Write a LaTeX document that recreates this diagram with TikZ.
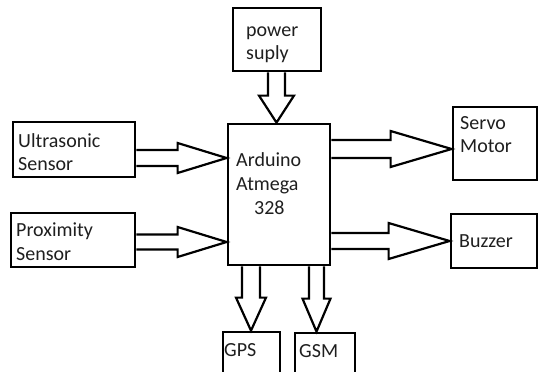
\documentclass[tikz,border=0pt]{standalone}
\usepackage{fontspec}
\setmainfont{Carlito}
\usetikzlibrary{calc}
\definecolor{txt}{gray}{0.12}
\tikzset{
  box/.style={draw=black, line width=2.8pt, rectangle, inner sep=0pt},
  lbl/.style={anchor=base west, inner sep=0pt, text=txt, font=\fontsize{20}{23}\selectfont},
  barrow/.style={draw=black, line width=2.2pt, line join=miter}
}
% #1 start, #2 tip, #3 shaft half width, #4 head half width, #5 head length
\newcommand{\blockarrow}[5]{%
  \coordinate (hb) at ($#2!#5!#1$);
  \draw[barrow] ($#1!#3!90:#2$) -- ($(hb)!#3!90:#2$) -- ($(hb)!#4!90:#2$) -- #2
    -- ($(hb)!#4!-90:#2$) -- ($(hb)!#3!-90:#2$) -- ($#1!#3!-90:#2$);
}
\begin{document}
\begin{tikzpicture}[x=1pt,y=-1pt]
\clip (0,0) rectangle (538,372);
\fill[white] (0,0) rectangle (538,372);
% boxes
\node[box, minimum width=88pt, minimum height=63pt] (pw) at (277,39.5) {};
\node[box, minimum width=102pt, minimum height=141pt] (ard) at (279,194.5) {};
\node[box, minimum width=122pt, minimum height=55pt] (us) at (74,149.5) {};
\node[box, minimum width=124pt, minimum height=54pt] (px) at (73,240) {};
\node[box, minimum width=84pt, minimum height=73pt] (sv) at (495,143.5) {};
\node[box, minimum width=86pt, minimum height=54pt] (bz) at (494,241) {};
\node[box, minimum width=57pt, minimum height=46pt] (gps) at (251.5,355) {};
\node[box, minimum width=60pt, minimum height=45pt] (gsm) at (325,355.5) {};
% labels
\node[lbl] (t1) at (246,36) {power};
\node[lbl] (t2) at (246,59) {suply};
\node[lbl] (t3) at (18,147) {Ultrasonic};
\node[lbl] (t4) at (18,170) {Sensor};
\node[lbl] (t5) at (16,236) {Proximity};
\node[lbl] (t6) at (16,260) {Sensor};
\node[lbl] (t7) at (460,129) {Servo};
\node[lbl] (t8) at (460,152) {Motor};
\node[lbl] (t9) at (459,247) {Buzzer};
\node[lbl] (t10) at (236,166) {Arduino};
\node[lbl] (t11) at (236,190) {Atmega};
\node[lbl] (t12) at (254,214) {328};
\node[lbl] (t13) at (224,356) {GPS};
\node[lbl] (t14) at (299,357) {GSM};
% arrows
\blockarrow{(us.east |- 0,158)}{(ard.west |- 0,158)}{8pt}{15pt}{49pt}
\blockarrow{(px.east |- 0,242)}{(ard.west |- 0,242)}{7.5pt}{15pt}{49pt}
\blockarrow{(ard.east |- 0,149)}{(sv.west |- 0,149)}{9pt}{18pt}{61pt}
\blockarrow{(ard.east |- 0,241)}{(bz.west |- 0,241)}{8pt}{18pt}{61pt}
\blockarrow{(pw.south -| 276.5,0)}{(ard.north -| 276.5,0)}{8.5pt}{17.5pt}{27pt}
\blockarrow{(ard.south -| 251,0)}{(gps.north -| 251,0)}{9pt}{15pt}{33pt}
\blockarrow{(ard.south -| 316.5,0)}{(gsm.north -| 316.5,0)}{7.5pt}{14pt}{33pt}
\end{tikzpicture}
\end{document}
